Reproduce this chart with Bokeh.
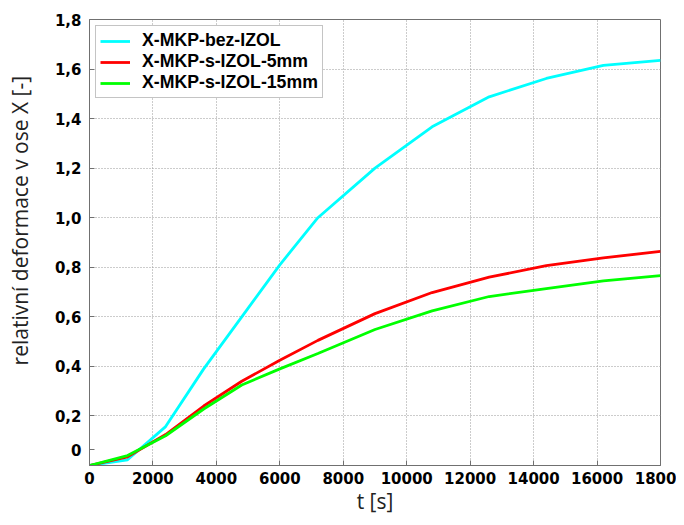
from bokeh.plotting import figure
from bokeh.models import Range1d, FixedTicker, CustomJSTickFormatter, Legend, LegendItem
from bokeh.embed import file_html
from bokeh.resources import INLINE

# data
t = [0, 1200, 2400, 3600, 4800, 6000, 7200, 9000, 10800, 12600, 14400, 16200, 18000]
bez_izol = [0, 0.023, 0.157, 0.39, 0.60, 0.81, 1.0, 1.2, 1.367, 1.488, 1.562, 1.615, 1.635]
izol_5mm = [0, 0.035, 0.125, 0.24, 0.34, 0.425, 0.505, 0.613, 0.698, 0.760, 0.807, 0.838, 0.864]
izol_15mm = [0, 0.040, 0.120, 0.228, 0.325, 0.39, 0.452, 0.549, 0.624, 0.682, 0.714, 0.745, 0.766]
series_names = ["X-MKP-bez-IZOL", "X-MKP-s-IZOL-5mm", "X-MKP-s-IZOL-15mm"]
x_ticks = [0, 2000, 4000, 6000, 8000, 10000, 12000, 14000, 16000, 18000]
# the last label is cut off at the right edge of the original picture
x_tick_labels = ["0", "2000", "4000", "6000", "8000", "10000", "12000", "14000", "16000", "1800"]
y_ticks = [0.2, 0.4, 0.6, 0.8, 1.0, 1.2, 1.4, 1.6, 1.8]
# in the original, the "0" label sits a little above the bottom edge
zero_label_pos = 0.064

p = figure(width=676, height=517, output_backend="svg", toolbar_location=None,
           x_range=Range1d(0, 18000), y_range=Range1d(0, 1.8),
           min_border_left=89, min_border_right=16, min_border_top=19, min_border_bottom=50)
p.background_fill_color = "white"
p.border_fill_color = "white"
p.outline_line_color = "#707070"

p.xaxis.ticker = FixedTicker(ticks=x_ticks)
p.yaxis.ticker = FixedTicker(ticks=[zero_label_pos] + y_ticks)
p.xaxis.formatter = CustomJSTickFormatter(
    args=dict(vals=x_ticks, labs=x_tick_labels),
    code="const i = vals.indexOf(Math.round(tick)); return i >= 0 ? labs[i] : tick.toFixed(0);")
p.yaxis.formatter = CustomJSTickFormatter(
    code="if (tick < 0.1) { return '0'; } return tick.toFixed(1).replace('.', ',');")

for ax in (p.xaxis[0], p.yaxis[0]):
    ax.major_tick_in = 5
    ax.major_tick_out = 0
    ax.minor_tick_line_color = None
    ax.axis_line_color = "#707070"
    ax.major_tick_line_color = "#707070"
    ax.major_label_text_font = "DejaVu Sans"
    ax.major_label_text_font_style = "bold"
    ax.major_label_text_font_size = "15px"
    ax.major_label_text_color = "black"
    ax.axis_label_text_font = "Open Sans"
    ax.axis_label_text_font_style = "normal"
    ax.axis_label_text_font_size = "21px"
    ax.axis_label_text_color = "#222222"

p.xaxis.axis_label = "t [s]"
# leading no-break spaces move the centred title up, as in the original
p.yaxis.axis_label = "\u00a0" * 8 + "relativní deformace v ose X [-]"
p.xaxis.major_label_standoff = 6
p.xaxis.axis_label_standoff = 0
p.yaxis.major_label_standoff = 8
p.yaxis.axis_label_standoff = 18

for g in (p.xgrid[0], p.ygrid[0]):
    g.grid_line_color = "#999999"
    g.grid_line_dash = "1 2"
    g.grid_line_width = 1
p.xgrid.ticker = FixedTicker(ticks=x_ticks)
p.ygrid.ticker = FixedTicker(ticks=y_ticks)

r1 = p.line(t, bez_izol, line_color="#00ffff", line_width=2.8)
r2 = p.line(t, izol_5mm, line_color="#ff0000", line_width=2.8)
r3 = p.line(t, izol_15mm, line_color="#00ff00", line_width=2.8)

legend = Legend(items=[LegendItem(label=series_names[0], renderers=[r1]),
                       LegendItem(label=series_names[1], renderers=[r2]),
                       LegendItem(label=series_names[2], renderers=[r3])],
                location="top_left")
legend.margin = 6
legend.padding = 4
legend.spacing = 0
legend.label_height = 20
legend.glyph_height = 20
legend.glyph_width = 30
legend.label_standoff = 12
legend.label_text_font = "Liberation Sans"
legend.label_text_font_style = "bold"
legend.label_text_font_size = "17.7px"
legend.label_text_color = "black"
legend.border_line_color = "#8a8a8a"
legend.border_line_width = 1.5
legend.background_fill_color = "white"
legend.background_fill_alpha = 1
p.add_layout(legend)

open("out.html", "w").write(file_html(p, INLINE))
